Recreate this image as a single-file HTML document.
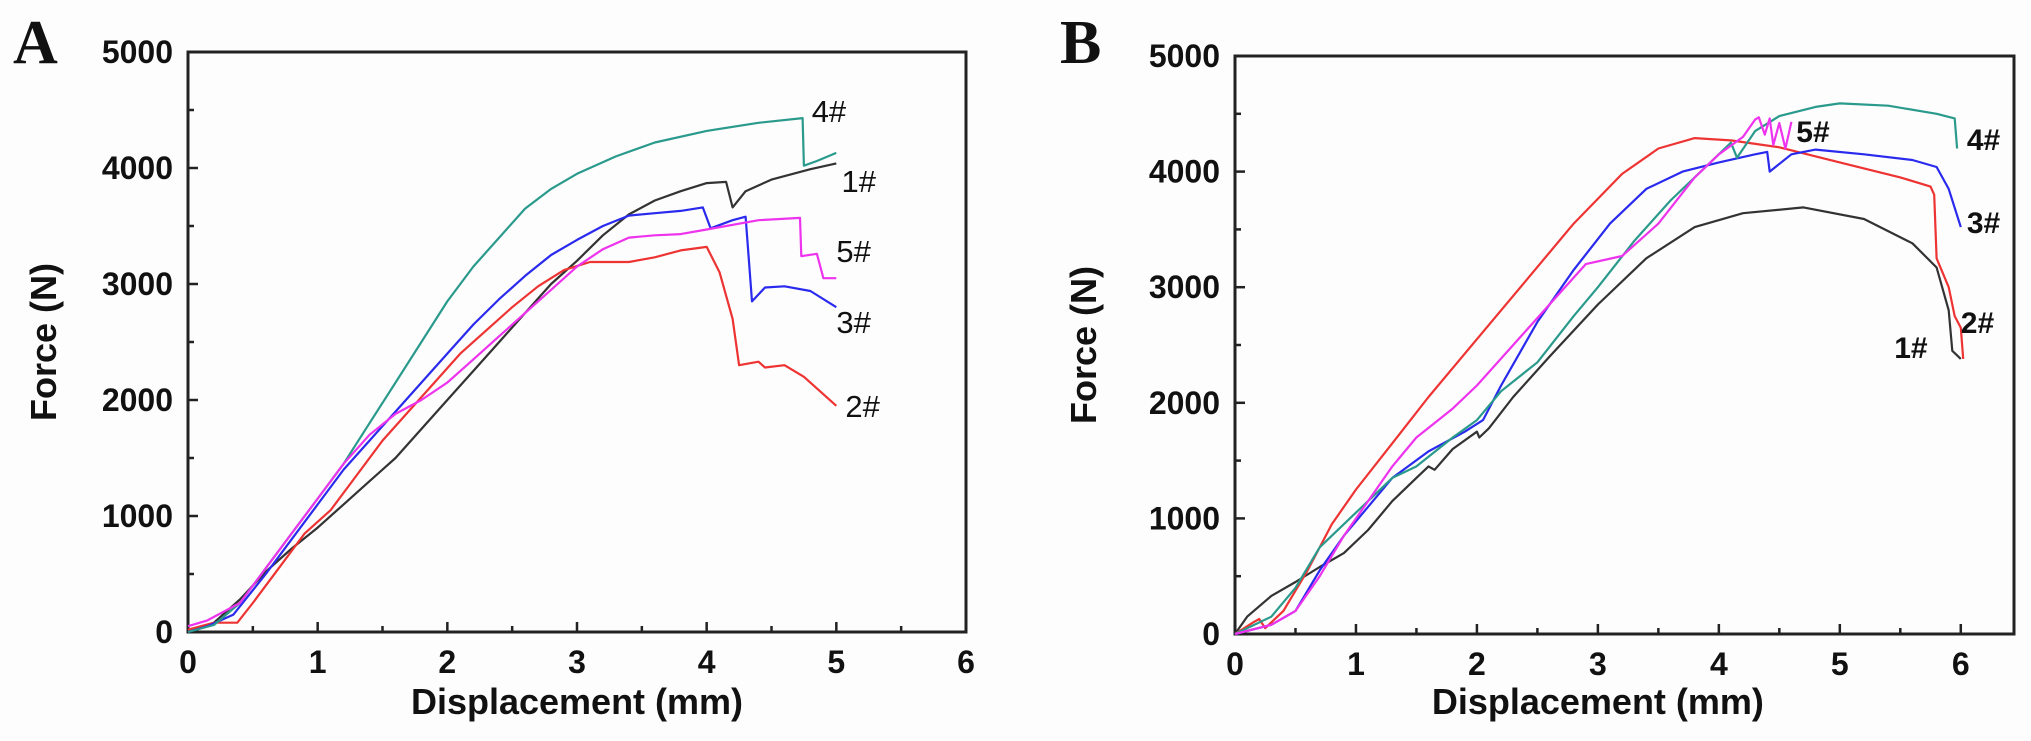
<!DOCTYPE html>
<html><head><meta charset="utf-8"><style>
body{margin:0;background:#fdfdfd;}
svg{display:block;font-family:"Liberation Sans",Arial,sans-serif;}
</style></head><body>
<svg id="fig" width="2031" height="741" viewBox="0 0 2031 741"></svg>
<script>
const xTicks=[0,1,2,3,4,5,6];
const yTicks=[0,1000,2000,3000,4000,5000];
const seriesNames=["1#","2#","3#","4#","5#"];
const colors={"1#":"#333333","2#":"#ee3333","3#":"#2a2aee","4#":"#2a9a8c","5#":"#ee33ee"};
const A1=[[0,0],[0.2,80],[0.4,280],[0.6,520],[0.8,720],[1.0,900],[1.2,1100],[1.4,1300],[1.6,1500],[1.8,1750],[2.0,2000],[2.2,2250],[2.4,2500],[2.6,2750],[2.8,3000],[3.0,3200],[3.2,3420],[3.4,3600],[3.6,3720],[3.8,3800],[4.0,3870],[4.15,3880],[4.2,3660],[4.3,3800],[4.5,3900],[4.8,3990],[5.0,4040]];
const A2=[[0,20],[0.2,80],[0.38,80],[0.5,250],[0.7,550],[0.9,850],[1.1,1050],[1.3,1350],[1.5,1650],[1.7,1900],[1.9,2150],[2.1,2400],[2.3,2600],[2.5,2800],[2.7,2980],[2.9,3120],[3.1,3190],[3.4,3190],[3.6,3230],[3.8,3290],[4.0,3320],[4.1,3100],[4.2,2700],[4.25,2300],[4.4,2330],[4.45,2280],[4.6,2300],[4.75,2200],[5.0,1950]];
const A3=[[0,0],[0.15,50],[0.35,150],[0.6,500],[0.8,800],[1.0,1100],[1.2,1400],[1.4,1650],[1.6,1900],[1.8,2150],[2.0,2400],[2.2,2650],[2.4,2870],[2.6,3070],[2.8,3250],[3.0,3380],[3.2,3500],[3.4,3590],[3.6,3610],[3.8,3630],[3.97,3660],[4.03,3480],[4.2,3550],[4.3,3580],[4.35,2850],[4.45,2970],[4.6,2980],[4.8,2940],[5.0,2800]];
const A4=[[0,0],[0.2,60],[0.4,250],[0.6,550],[0.8,850],[1.0,1150],[1.2,1450],[1.4,1800],[1.6,2150],[1.8,2500],[2.0,2850],[2.2,3150],[2.4,3400],[2.6,3650],[2.8,3820],[3.0,3950],[3.3,4100],[3.6,4220],[4.0,4320],[4.4,4390],[4.74,4430],[4.75,4020],[4.85,4060],[5.0,4130]];
const A5=[[0,50],[0.15,100],[0.4,250],[0.6,550],[0.8,850],[1.0,1150],[1.2,1450],[1.4,1700],[1.6,1880],[1.8,2000],[2.0,2150],[2.2,2350],[2.4,2550],[2.6,2750],[2.8,2950],[3.0,3150],[3.2,3300],[3.4,3400],[3.6,3420],[3.8,3430],[4.0,3470],[4.4,3550],[4.72,3570],[4.73,3240],[4.85,3260],[4.9,3050],[5.0,3050]];
const B1=[[0,0],[0.1,150],[0.3,330],[0.5,450],[0.7,580],[0.9,700],[1.1,900],[1.3,1150],[1.5,1350],[1.6,1450],[1.65,1420],[1.8,1600],[2.0,1750],[2.02,1700],[2.1,1780],[2.3,2050],[2.6,2400],[3.0,2850],[3.4,3250],[3.8,3520],[4.2,3640],[4.7,3690],[5.2,3590],[5.6,3380],[5.8,3170],[5.9,2800],[5.93,2450],[6.0,2380]];
const B2=[[0,0],[0.15,100],[0.2,130],[0.25,50],[0.4,200],[0.6,550],[0.8,950],[1.0,1250],[1.3,1650],[1.6,2050],[2.0,2550],[2.4,3050],[2.8,3550],[3.2,3980],[3.5,4200],[3.8,4290],[4.1,4270],[4.5,4210],[5.0,4080],[5.5,3950],[5.75,3870],[5.78,3800],[5.8,3250],[5.9,3000],[5.95,2750],[6.0,2650],[6.02,2380]];
const B3=[[0,0],[0.3,80],[0.5,200],[0.7,550],[0.9,850],[1.1,1100],[1.3,1350],[1.6,1580],[1.9,1750],[2.05,1850],[2.2,2150],[2.5,2700],[2.8,3150],[3.1,3550],[3.4,3850],[3.7,4000],[4.0,4080],[4.3,4150],[4.4,4170],[4.42,4000],[4.6,4150],[4.8,4190],[5.2,4150],[5.6,4100],[5.8,4040],[5.9,3850],[6.0,3520]];
const B4=[[0,0],[0.3,150],[0.5,400],[0.7,750],[1.0,1050],[1.3,1350],[1.5,1450],[1.8,1700],[2.0,1850],[2.2,2100],[2.5,2350],[2.8,2750],[3.0,3000],[3.3,3400],[3.6,3750],[3.9,4050],[4.1,4250],[4.15,4120],[4.3,4350],[4.5,4480],[4.8,4560],[5.0,4590],[5.4,4570],[5.8,4500],[5.95,4460],[5.97,4200]];
const B5=[[0,0],[0.3,80],[0.5,200],[0.7,500],[0.9,850],[1.1,1150],[1.3,1450],[1.5,1700],[1.8,1950],[2.0,2150],[2.3,2500],[2.6,2850],[2.9,3200],[3.2,3270],[3.5,3550],[3.8,3950],[4.0,4150],[4.2,4300],[4.3,4450],[4.33,4470],[4.38,4320],[4.42,4460],[4.45,4230],[4.5,4420],[4.55,4200],[4.6,4430]];
const labelsA=[["4#",4.81,4397],["1#",5.04,3793],["5#",5.0,3190],["3#",5.0,2578],["2#",5.07,1853]];
const labelsB=[["5#",4.64,4256],["4#",6.05,4187],["3#",6.05,3469],["2#",6.0,2604],["1#",5.45,2388]];

const NS="http://www.w3.org/2000/svg";
const svg=document.getElementById('fig');
function mk(tag,attrs,parent){const e=document.createElementNS(NS,tag);for(const k in attrs)e.setAttribute(k,attrs[k]);(parent||svg).appendChild(e);return e;}

function panel(cfg){
  const g=mk('g',{});
  
  
  const X=v=>cfg.x0+(v/cfg.xmax)*(cfg.x1-cfg.x0);
  const Y=v=>cfg.y0-(v/5000)*(cfg.y0-cfg.y1);
  const frame=mk('rect',{x:cfg.x0,y:cfg.y1,width:cfg.x1-cfg.x0,height:cfg.y0-cfg.y1,fill:'none',stroke:'#222','stroke-width':3},g);
  
  
  for(let v=0;v<=cfg.xmax+1e-9;v+=0.5){
    const major=Math.abs(v-Math.round(v))<1e-9;
    const t=mk('line',{x1:X(v),x2:X(v),y1:cfg.y0,y2:cfg.y0-(major?10:6),stroke:'#222','stroke-width':2.5},g);
    
    
  }
  xTicks.forEach(v=>{
    const t=mk('text',{x:X(v),y:cfg.y0+41,'text-anchor':'middle','font-size':32,'font-weight':'bold',fill:'#111'},g);
    t.textContent=v;
    
    
  });
  for(let v=0;v<=5000;v+=500){
    const major=v%1000===0;
    const t=mk('line',{x1:cfg.x0,x2:cfg.x0+(major?10:6),y1:Y(v),y2:Y(v),stroke:'#222','stroke-width':2.5},g);
    
    
  }
  yTicks.forEach(v=>{
    const t=mk('text',{x:cfg.x0-15,y:Y(v)+11,'text-anchor':'end','font-size':32,'font-weight':'bold',fill:'#111'},g);
    t.textContent=v;
    
    
  });
  const xt=mk('text',{x:(cfg.x0+X(6))/2,y:714,'text-anchor':'middle','font-size':36,'font-weight':'bold',fill:'#111'},g);
  xt.textContent='Displacement (mm)';
  
  
  const yt=mk('text',{x:0,y:0,transform:`translate(${cfg.x0-cfg.ytOff},${(cfg.y0+cfg.y1)/2}) rotate(-90)`,'text-anchor':'middle','font-size':36,'font-weight':'bold',fill:'#111'},g);
  yt.textContent='Force (N)';
  
  
  const pl=mk('text',{x:cfg.x0-175,y:63,'font-size':62,'font-weight':'bold','font-family':'"Liberation Serif",serif',fill:'#111'},g);
  pl.textContent=cfg.letter;
  
  
  seriesNames.forEach((n,i)=>{
    const d=cfg.data[i];
    const p=mk('polyline',{points:d.map(q=>X(q[0]).toFixed(1)+','+Y(q[1]).toFixed(1)).join(' '),fill:'none',stroke:colors[n],'stroke-width':2.2,'stroke-linejoin':'round'},g);
    
    
  });
  cfg.labels.forEach(l=>{
    const t=mk('text',{x:X(l[1]),y:Y(l[2]),'font-size':cfg.bold?30:31,'font-weight':cfg.bold?'bold':'normal',fill:'#111'},g);
    t.textContent=l[0];
    
    
  });
}
panel({name:'panel-a',letter:'A',x0:188,x1:966,xmax:6,y0:632,y1:52,data:[A1,A2,A3,A4,A5],labels:labelsA,bold:false,ytOff:132});
panel({name:'panel-b',letter:'B',x0:1235,x1:2014,xmax:6.44,y0:634,y1:56,data:[B1,B2,B3,B4,B5],labels:labelsB,bold:true,ytOff:139});
</script>
</body></html>
